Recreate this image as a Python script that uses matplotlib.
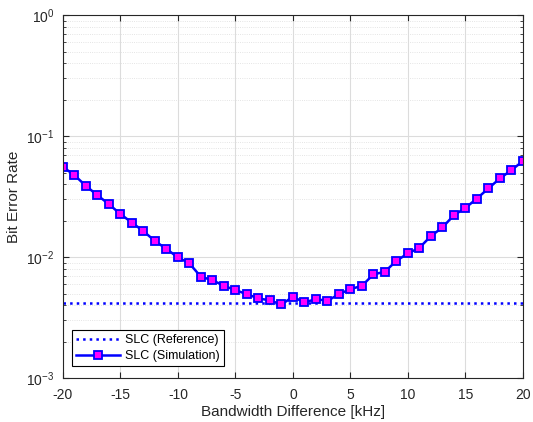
import matplotlib
matplotlib.use("Agg")
import matplotlib.pyplot as plt
from matplotlib.ticker import LogLocator, NullFormatter

plt.rcParams['font.family'] = ['Liberation Sans', 'DejaVu Sans']
plt.rcParams['axes.unicode_minus'] = False
plt.rcParams['mathtext.fontset'] = 'custom'
plt.rcParams['mathtext.rm'] = 'Liberation Sans'

# bandwidth difference [kHz]
bw_diff = list(range(-20, 21))
ber_sim = [0.0557, 0.0476, 0.0388, 0.0325, 0.0274, 0.0227, 0.0193, 0.0164, 0.0136, 0.0117,
           0.00995, 0.00888, 0.00688, 0.00646, 0.00579, 0.00534, 0.00494, 0.00456, 0.00439, 0.00406,
           0.00470,
           0.00422, 0.00450, 0.00435, 0.00494, 0.00544, 0.00579, 0.00720, 0.00757, 0.00933, 0.01073,
           0.01194, 0.01492, 0.01758, 0.0222, 0.0255, 0.0305, 0.0370, 0.0447, 0.0524, 0.0621]
ber_ref = 0.00414

fig = plt.figure(figsize=(5.33, 4.22), dpi=100)
ax = fig.add_axes([0.118, 0.104, 0.863, 0.860])

ax.plot([bw_diff[0], bw_diff[-1]], [ber_ref, ber_ref], ':', color='#0000ff', lw=1.8,
        label='SLC (Reference)')
ax.plot(bw_diff, ber_sim, '-s', color='#0000ff', lw=1.8, ms=5.5, mfc='#ff00ff', mec='#0000ff',
        mew=1.3, label='SLC (Simulation)')

ax.set_yscale('log')
ax.set_xlim(-20, 20)
ax.set_ylim(1e-3, 1e0)
ax.set_xticks(range(-20, 21, 5))
ax.yaxis.set_minor_locator(LogLocator(base=10, subs=range(2, 10)))
ax.yaxis.set_minor_formatter(NullFormatter())

ax.grid(True, which='major', color='#dcdcdc', lw=0.8)
ax.grid(True, which='minor', axis='y', color='#dcdcdc', lw=0.6, ls=':')
ax.set_axisbelow(True)

for s in ax.spines.values():
    s.set_color('#262626')
    s.set_linewidth(0.8)
ax.tick_params(which='both', direction='in', top=True, right=True, colors='#262626',
               labelsize=10, labelcolor='#262626')
ax.tick_params(which='major', length=4)
ax.tick_params(which='minor', length=2)
ax.tick_params(axis='x', pad=7)
ax.tick_params(axis='y', pad=6)

ax.set_xlabel('Bandwidth Difference [kHz]', fontsize=11, color='#262626', labelpad=2)
ax.set_ylabel('Bit Error Rate', fontsize=11, color='#262626', labelpad=4)

leg = ax.legend(loc='lower left', bbox_to_anchor=(0.0, 0.008), fontsize=9, fancybox=False,
                edgecolor='black', framealpha=1, borderaxespad=0.7, handlelength=3.5,
                handletextpad=0.4, borderpad=0.35, labelspacing=0.3)
leg.get_frame().set_linewidth(0.8)

fig.savefig('out.png', dpi=100)
